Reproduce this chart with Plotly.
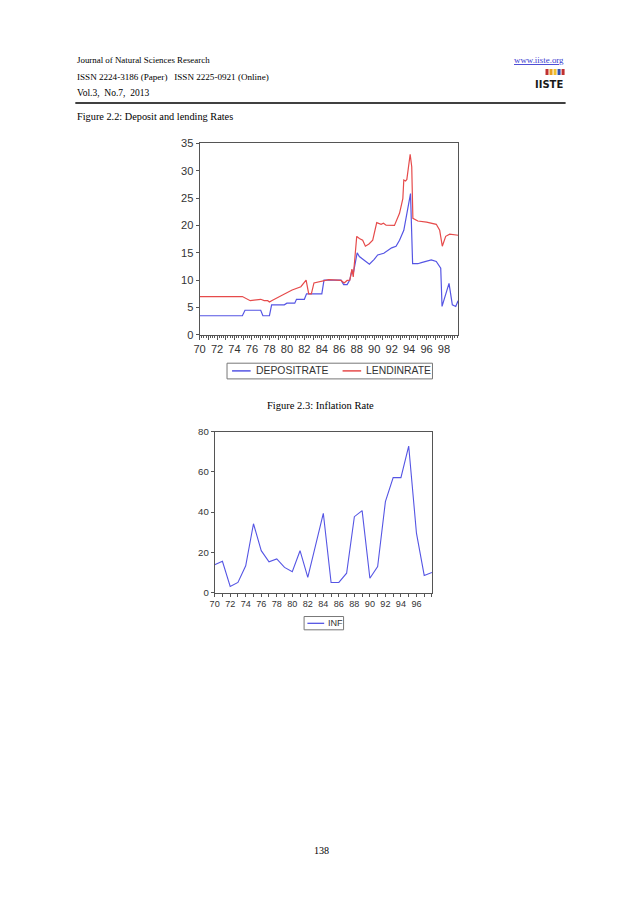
import plotly.graph_objects as go

W, H = 638, 903

# ---------------- data ----------------
# Figure 2.2 : deposit and lending rates (time in years of the 1900s, value in %)
dep_time = [70.0, 74.9, 75.2, 77.0, 77.25, 78.0, 78.25, 79.7, 80.0, 80.9, 81.1, 82.0, 82.25,
            84.0, 84.25, 86.2, 86.5, 86.9, 87.2, 87.45, 87.6, 88.05, 88.3, 89.06, 89.45,
            90.0, 90.4, 91.1, 91.75, 92.0, 92.5, 92.9, 93.39, 93.66, 94.16, 94.4, 95.0,
            95.4, 95.96, 96.54, 97.11, 97.5, 97.62, 97.77, 98.08, 98.57, 98.95, 99.34, 99.61]
dep_rate = [3.5, 3.5, 4.5, 4.5, 3.5, 3.5, 5.5, 5.5, 5.8, 5.8, 6.5, 6.5, 7.5,
            7.5, 10.0, 10.0, 9.2, 9.2, 10.0, 11.8, 11.2, 15.0, 14.3, 13.4, 12.9,
            13.8, 14.6, 14.9, 15.6, 15.9, 16.2, 17.3, 19.1, 21.6, 25.8, 13.0, 13.0,
            13.2, 13.5, 13.7, 13.4, 12.5, 12.2, 5.2, 7.0, 9.4, 5.5, 5.2, 6.25]

lend_time = [70.0, 74.9, 75.8, 76.6, 77.0, 77.4, 77.8, 78.0, 78.3, 79.5, 80.6, 81.6, 82.0,
             82.2, 82.5, 82.8, 83.1, 84.0, 84.5, 84.8, 86.2, 86.56, 86.9, 87.2, 87.45,
             87.6, 88.0, 88.3, 88.68, 88.99, 89.4, 89.83, 90.29, 90.79, 91.06, 91.36,
             92.32, 92.9, 93.28, 93.39, 93.59, 93.74, 94.12, 94.3, 94.43, 95.0, 96.0,
             97.11, 97.5, 97.8, 98.19, 98.65, 99.61]
lend_rate = [7.0, 7.0, 6.25, 6.4, 6.5, 6.25, 6.25, 6.0, 6.3, 7.3, 8.2, 8.8, 9.7,
             10.0, 7.5, 7.5, 9.5, 9.8, 10.1, 10.1, 9.95, 9.5, 9.95, 10.0, 12.0,
             10.6, 18.0, 17.6, 17.3, 16.2, 16.6, 17.3, 20.5, 20.2, 20.4, 20.05,
             20.0, 22.2, 24.9, 28.3, 28.1, 28.4, 33.0, 30.7, 21.3, 20.8, 20.6,
             20.2, 19.1, 16.2, 18.0, 18.4, 18.2]

# Figure 2.3 : inflation rate, annual 1970-1998
inf_year = list(range(70, 99))
inf_rate = [13.8, 15.5, 3.0, 5.0, 13.3, 34.2, 20.8, 15.3, 16.7, 12.5, 10.3, 20.8, 7.5, 23.0,
            39.4, 5.0, 5.0, 9.6, 37.7, 40.7, 7.1, 12.9, 45.2, 57.1, 57.1, 72.8, 29.5, 8.5, 10.0]

year_ticks1 = list(range(70, 100))
year_labels1 = [str(v) if v % 2 == 0 else "" for v in year_ticks1]
year_ticks2 = list(range(70, 99))
year_labels2 = [str(v) if (v % 2 == 0 and v < 98) else "" for v in year_ticks2]

BLUE = "rgb(85,85,228)"
RED = "rgb(230,75,75)"
AX = "#555555"
TXT = "#333333"

# the photographed page comes out slightly shrunk about its centre; compensate
SX, SY, OX, OY = 0.986, 0.987, 5.0, 6.0


def X(px):
    return ((px - OX) / SX) / W


def Y(py):
    return 1 - ((py - OY) / SY) / H


def F(size):
    return round(size / SY, 1)


fig = go.Figure()
fig.add_trace(go.Scatter(x=dep_time, y=dep_rate, mode="lines", name="DEPOSITRATE",
                         line=dict(color=BLUE, width=1.2), xaxis="x", yaxis="y"))
fig.add_trace(go.Scatter(x=lend_time, y=lend_rate, mode="lines", name="LENDINRATE",
                         line=dict(color=RED, width=1.2), xaxis="x", yaxis="y"))
fig.add_trace(go.Scatter(x=inf_year, y=inf_rate, mode="lines", name="INF",
                         line=dict(color=BLUE, width=1.1), xaxis="x2", yaxis="y2"))

axis_common = dict(showline=True, mirror=True, linecolor=AX, linewidth=1,
                   showgrid=False, zeroline=False, ticks="outside", tickcolor=AX,
                   color=TXT)

fig.update_layout(
    width=W, height=H, margin=dict(l=0, r=0, t=0, b=0),
    paper_bgcolor="white", plot_bgcolor="white", showlegend=False,
    font=dict(family="Liberation Sans, Arial", color=TXT),
    xaxis=dict(domain=[X(197.7), X(455)], range=[70, 99.61],
               tickvals=year_ticks1, ticktext=year_labels1,
               ticklen=4, tickfont=dict(size=F(11)),
               minor=dict(dtick=0.25, tick0=70, ticks="outside", ticklen=2, tickcolor=AX),
               anchor="y", **axis_common),
    yaxis=dict(domain=[Y(335), Y(143.3)], range=[0, 35], dtick=5, ticklen=3,
               tickfont=dict(size=F(11)), anchor="x", **axis_common),
    xaxis2=dict(domain=[X(212.7), X(429)], range=[70, 98],
                tickvals=year_ticks2, ticktext=year_labels2,
                ticklen=3, tickfont=dict(size=F(9)), anchor="y2", **axis_common),
    yaxis2=dict(domain=[Y(592.7), Y(431.7)], range=[0, 80], dtick=20, ticklen=3,
                tickfont=dict(size=F(9.5)), anchor="x2", **axis_common),
)

serif = "Liberation Serif, Times New Roman"
ann = []


def text(px, py, s, size, anchor="left", color="black", family=serif):
    ann.append(dict(x=X(px), y=Y(py), xref="paper", yref="paper", text=s, showarrow=False,
                    xanchor=anchor, yanchor="middle",
                    font=dict(family=family, size=F(size), color=color)))


# page header
text(74, 60, "Journal of Natural Sciences Research", 8.8)
text(74, 77, "ISSN 2224-3186 (Paper)&nbsp;&nbsp;&nbsp;ISSN 2225-0921 (Online)", 9)
text(74, 93, "Vol.3,&nbsp; No.7,&nbsp; 2013", 9.4)
text(562, 60, "<u>www.iiste.org</u>", 8.8, anchor="right", color="#3a3ad0")
text(561, 84.5, "<b>IISTE</b>", 11, anchor="right", color="#1a1a1a",
     family="DejaVu Sans Condensed, Liberation Sans")
text(74, 117, "Figure 2.2: Deposit and lending Rates", 10.2)
text(318, 406, "Figure 2.3: Inflation Rate", 10.4, anchor="center")
text(319, 851, "138", 10, anchor="center")

shapes = [
    dict(type="line", xref="paper", yref="paper", x0=X(74), x1=X(562), y0=Y(103), y1=Y(103),
         line=dict(color="black", width=1.5)),
]
# coloured blocks of the IISTE logo
for i, c in enumerate(["#c03030", "#e8a020", "#f0c030", "#3050b0", "#c03030"]):
    shapes.append(dict(type="rect", xref="paper", yref="paper",
                       x0=X(542 + i * 4), x1=X(545 + i * 4), y0=Y(75), y1=Y(69),
                       line=dict(width=0), fillcolor=c))

# legend of figure 2.2
shapes.append(dict(type="rect", xref="paper", yref="paper", x0=X(225), x1=X(429.5), y0=Y(379), y1=Y(363.3),
                   line=dict(color="#777777", width=1), fillcolor="white"))
shapes.append(dict(type="line", xref="paper", yref="paper", x0=X(230), x1=X(248.5), y0=Y(371), y1=Y(371),
                   line=dict(color=BLUE, width=1.5)))
shapes.append(dict(type="line", xref="paper", yref="paper", x0=X(340), x1=X(358.5), y0=Y(371), y1=Y(371),
                   line=dict(color=RED, width=1.5)))
text(251.5, 371, "DEPOSITRATE", 10.3, color=TXT, family="Liberation Sans, Arial")
text(361.5, 371, "LENDINRATE", 10.3, color=TXT, family="Liberation Sans, Arial")

# legend of figure 2.3
shapes.append(dict(type="rect", xref="paper", yref="paper", x0=X(301.7), x1=X(341), y0=Y(630), y1=Y(616.7),
                   line=dict(color="#777777", width=1), fillcolor="white"))
shapes.append(dict(type="line", xref="paper", yref="paper", x0=X(305), x1=X(321.7), y0=Y(623.5), y1=Y(623.5),
                   line=dict(color=BLUE, width=1.3)))
text(324, 623.5, "INF", 9, color=TXT, family="Liberation Sans, Arial")

fig.update_layout(annotations=ann, shapes=shapes)
fig.write_html("out.html", config={"displayModeBar": False},
               post_script="document.documentElement.style.overflow='hidden';"
                           "document.body.style.margin='0';document.body.style.overflow='hidden';")
